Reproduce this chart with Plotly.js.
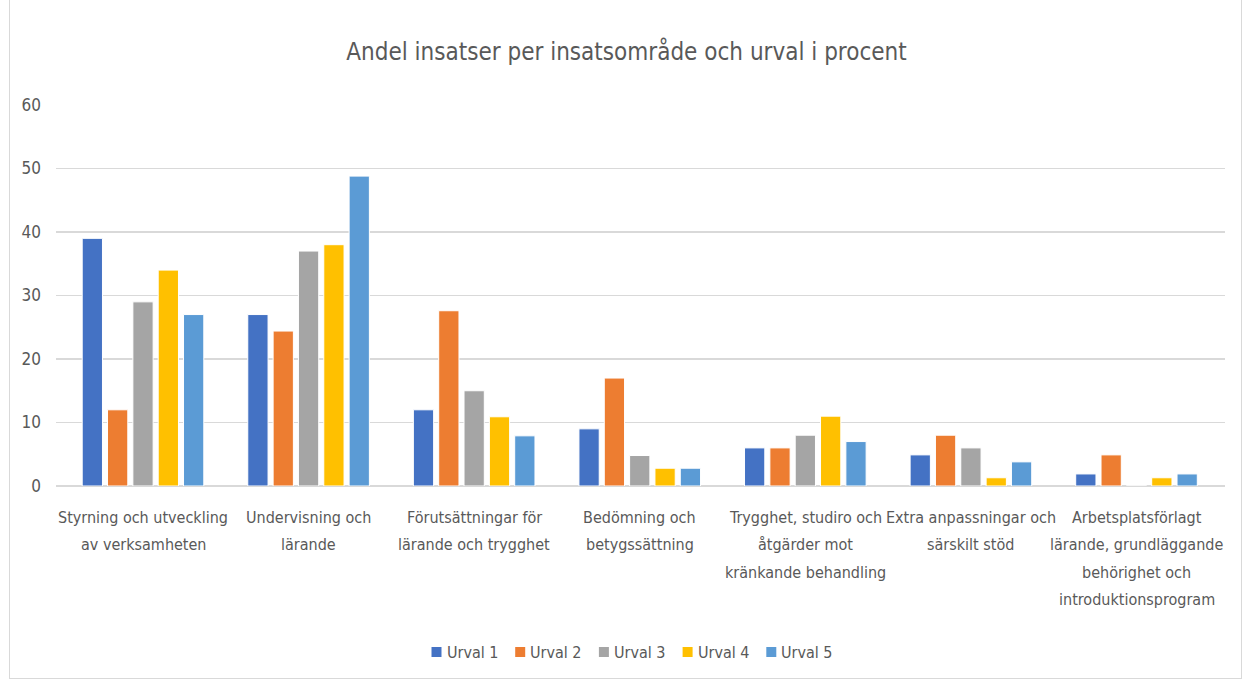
<!DOCTYPE html>
<html>
<head>
<meta charset="utf-8">
<script src="https://cdn.plot.ly/plotly-3.0.1.min.js"></script>
<style>
  html, body { margin: 0; padding: 0; background: #ffffff; }
  #frame { position: absolute; left: 9px; top: -1px; width: 1233px; height: 680px; border: 1px solid #d9d9d9; box-sizing: border-box; pointer-events: none; }
  #chart { position: absolute; left: 0; top: 0; width: 1253px; height: 684px; }
</style>
</head>
<body>
<div id="chart"></div>
<div id="frame"></div>
<script>
const categories = [
  "Styrning och utveckling<br>av verksamheten",
  "Undervisning och<br>lärande",
  "Förutsättningar för<br>lärande och trygghet",
  "Bedömning och<br>betygssättning",
  "Trygghet, studiro och<br>åtgärder mot<br>kränkande behandling",
  "Extra anpassningar och<br>särskilt stöd",
  "Arbetsplatsförlagt<br>lärande, grundläggande<br>behörighet och<br>introduktionsprogram"
];
const seriesNames = ["Urval 1", "Urval 2", "Urval 3", "Urval 4", "Urval 5"];
const urval1 = [39, 27, 12, 9, 6, 4.9, 1.9];
const urval2 = [12, 24.4, 27.6, 17, 6, 8, 4.9];
const urval3 = [29, 37, 15, 4.8, 8, 6, 0];
const urval4 = [34, 38, 10.9, 2.8, 11, 1.3, 1.3];
const urval5 = [27, 48.8, 7.9, 2.8, 7, 3.8, 1.9];
const yTicks = [0, 10, 20, 30, 40, 50, 60];

const seriesValues = [urval1, urval2, urval3, urval4, urval5];
const colors = ["#4472C4", "#ED7D31", "#A5A5A5", "#FFC000", "#5B9BD5"];
const FONT = "'Liberation Sans Narrow', 'DejaVu Sans Condensed', 'Roboto', sans-serif";

const W = 1253, H = 684;
const M = { l: 56, r: 28, t: 105, b: 198 };
const plotW = W - M.l - M.r, plotH = H - M.t - M.b;
const px2x = px => (px - M.l) / plotW;
const px2y = py => (H - M.b - py) / plotH;

const traces = seriesValues.map((vals, i) => ({
  type: "bar",
  name: seriesNames[i],
  x: categories,
  y: vals,
  marker: { color: colors[i], line: { color: "#ffffff", width: 1 } },
  hoverinfo: "y+name",
  showlegend: false
}));

// multi-line category labels as annotations with Excel-like line spacing
const annotations = [];
categories.forEach(cat => {
  const lines = cat.split("<br>");
  lines.forEach((ln, k) => {
    annotations.push({
      x: cat, xref: "x",
      y: 0, yref: "paper",
      yanchor: "middle",
      yshift: -(31 + k * 27.5),
      text: ln,
      showarrow: false,
      font: { family: FONT, size: 16, color: "#595959" }
    });
  });
});

// legend (Excel style: small square, tight gap)
const shapes = [];
const legStart = 431.5, legStep = 83.7, legY = 652, sq = 10;
seriesNames.forEach((nm, i) => {
  const x0 = legStart + i * legStep;
  shapes.push({
    type: "rect", xref: "paper", yref: "paper",
    x0: px2x(x0), x1: px2x(x0 + sq),
    y0: px2y(legY - sq / 2), y1: px2y(legY + sq / 2),
    fillcolor: colors[i], line: { width: 0 }
  });
  annotations.push({
    x: px2x(x0 + sq + 3), xref: "paper", xanchor: "left",
    y: px2y(legY), yref: "paper", yanchor: "middle",
    text: nm, showarrow: false,
    font: { family: FONT, size: 16, color: "#595959" }
  });
});

const layout = {
  width: W, height: H,
  paper_bgcolor: "rgba(0,0,0,0)",
  plot_bgcolor: "#ffffff",
  margin: M,
  title: {
    text: "Andel insatser per insatsområde och urval i procent",
    font: { family: FONT, size: 24, color: "#595959" },
    x: 0.5, xanchor: "center",
    y: 1 - 52 / H, yanchor: "middle", yref: "container"
  },
  barmode: "group",
  bargap: 0.235,
  bargroupgap: 0.2,
  xaxis: {
    type: "category",
    showticklabels: false,
    showgrid: false,
    showline: false,
    ticks: "",
    fixedrange: true
  },
  yaxis: {
    range: [0, 60],
    tickvals: yTicks,
    ticktext: yTicks.map(String),
    showgrid: true,
    gridcolor: "#d9d9d9",
    gridwidth: 1.5,
    zeroline: true,
    zerolinecolor: "#d9d9d9",
    zerolinewidth: 1.5,
    showline: false,
    ticks: "",
    ticklabelstandoff: 14,
    tickfont: { family: FONT, size: 17, color: "#595959" },
    fixedrange: true
  },
  annotations: annotations,
  shapes: shapes,
  showlegend: false
};

Plotly.newPlot("chart", traces, layout, { displayModeBar: false, staticPlot: true });
</script>
</body>
</html>
